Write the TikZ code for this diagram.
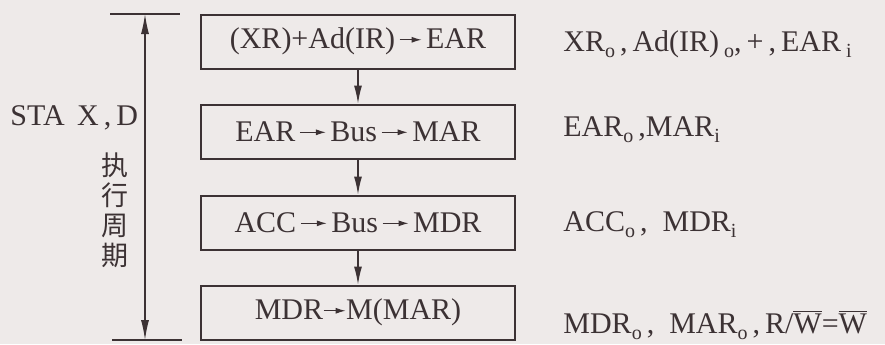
\documentclass[tikz,border=0pt]{standalone}
\usepackage{fontspec}
\setmainfont{Liberation Serif}
\newfontfamily\cjk{Noto Sans CJK SC}
\usetikzlibrary{arrows.meta}
\definecolor{paper}{RGB}{238,234,233}
\definecolor{ink}{RGB}{60,50,52}
\newcommand{\subtxt}[1]{\raisebox{-0.45ex}{\fontsize{10}{10}\selectfont #1}}
\newcommand{\toarr}[1][13pt]{\hspace{2pt}\tikz[baseline=-0.3ex]\draw[line width=0.55pt, -{Latex[length=5pt, width=3pt]}] (0pt,0.35ex) -- (#1,0.35ex);\hspace{2pt}}

\begin{document}
\begin{tikzpicture}[x=0.5pt, y=-0.5pt, font=\fontsize{15}{18}\selectfont, color=ink,
  stepbox/.style={draw=ink, line width=1pt, minimum width=157pt, minimum height=27pt, inner sep=0pt},
  sig/.style={anchor=west, inner sep=0pt},
  flow/.style={line width=0.6pt, -{Latex[length=9pt, width=4pt]}}]
  \fill[paper] (0,0) rectangle (885,344);
  \useasboundingbox (0,0) rectangle (885,344);
  % micro-operations of the execute cycle
  \node[stepbox] (s1) at (358,41.5) {(XR)+Ad(IR)\toarr[11pt]EAR};
  \node[stepbox] (s2) at (358,131.5) {EAR\toarr Bus\toarr MAR};
  \node[stepbox] (s3) at (358,222.5) {ACC\toarr Bus\toarr MDR};
  \node[stepbox] (s4) at (358,312.5) {MDR\hspace{-2pt}\toarr[11pt]\hspace{-2pt}M(MAR)};
  \draw[flow] (s1) -- (s2);
  \draw[flow] (s2) -- (s3);
  \draw[flow] (s3) -- (s4);
  % control signals
  \node[sig] (c1) at (563,44) {XR\subtxt{o}\,,\,Ad(IR)\,\subtxt{o},\,+\,,\,EAR\,\subtxt{i}};
  \node[sig] (c2) at (563,130) {EAR\subtxt{o}\,,MAR\subtxt{i}};
  \node[sig] (c3) at (563,225) {ACC\subtxt{o}\,,\enspace MDR\subtxt{i}};
  \node[sig] (c4) at (563,325) {MDR\subtxt{o}\,,\enspace MAR\subtxt{o}\,,\,R/$\overline{\mbox{W}}$=$\overline{\mbox{W}}$};
  % cycle span
  \coordinate (ttop) at (145,14);
  \coordinate (tbot) at (145,340);
  \draw[line width=0.6pt] (110,14) -- (180,14);
  \draw[line width=0.6pt] (112,340) -- (182,340);
  \draw[line width=0.6pt, {Latex[length=10pt, width=4pt]}-{Latex[length=10pt, width=4pt]}] (ttop) -- (tbot);
  \node[anchor=west, inner sep=0pt] (instr) at (10,118) {STA\, X\,,\,D};
  \node[align=center, inner sep=0pt, font=\cjk\fontsize{13.5}{15}\selectfont] (cyc) at (115,210) {执\\行\\周\\期};
\end{tikzpicture}
\end{document}
